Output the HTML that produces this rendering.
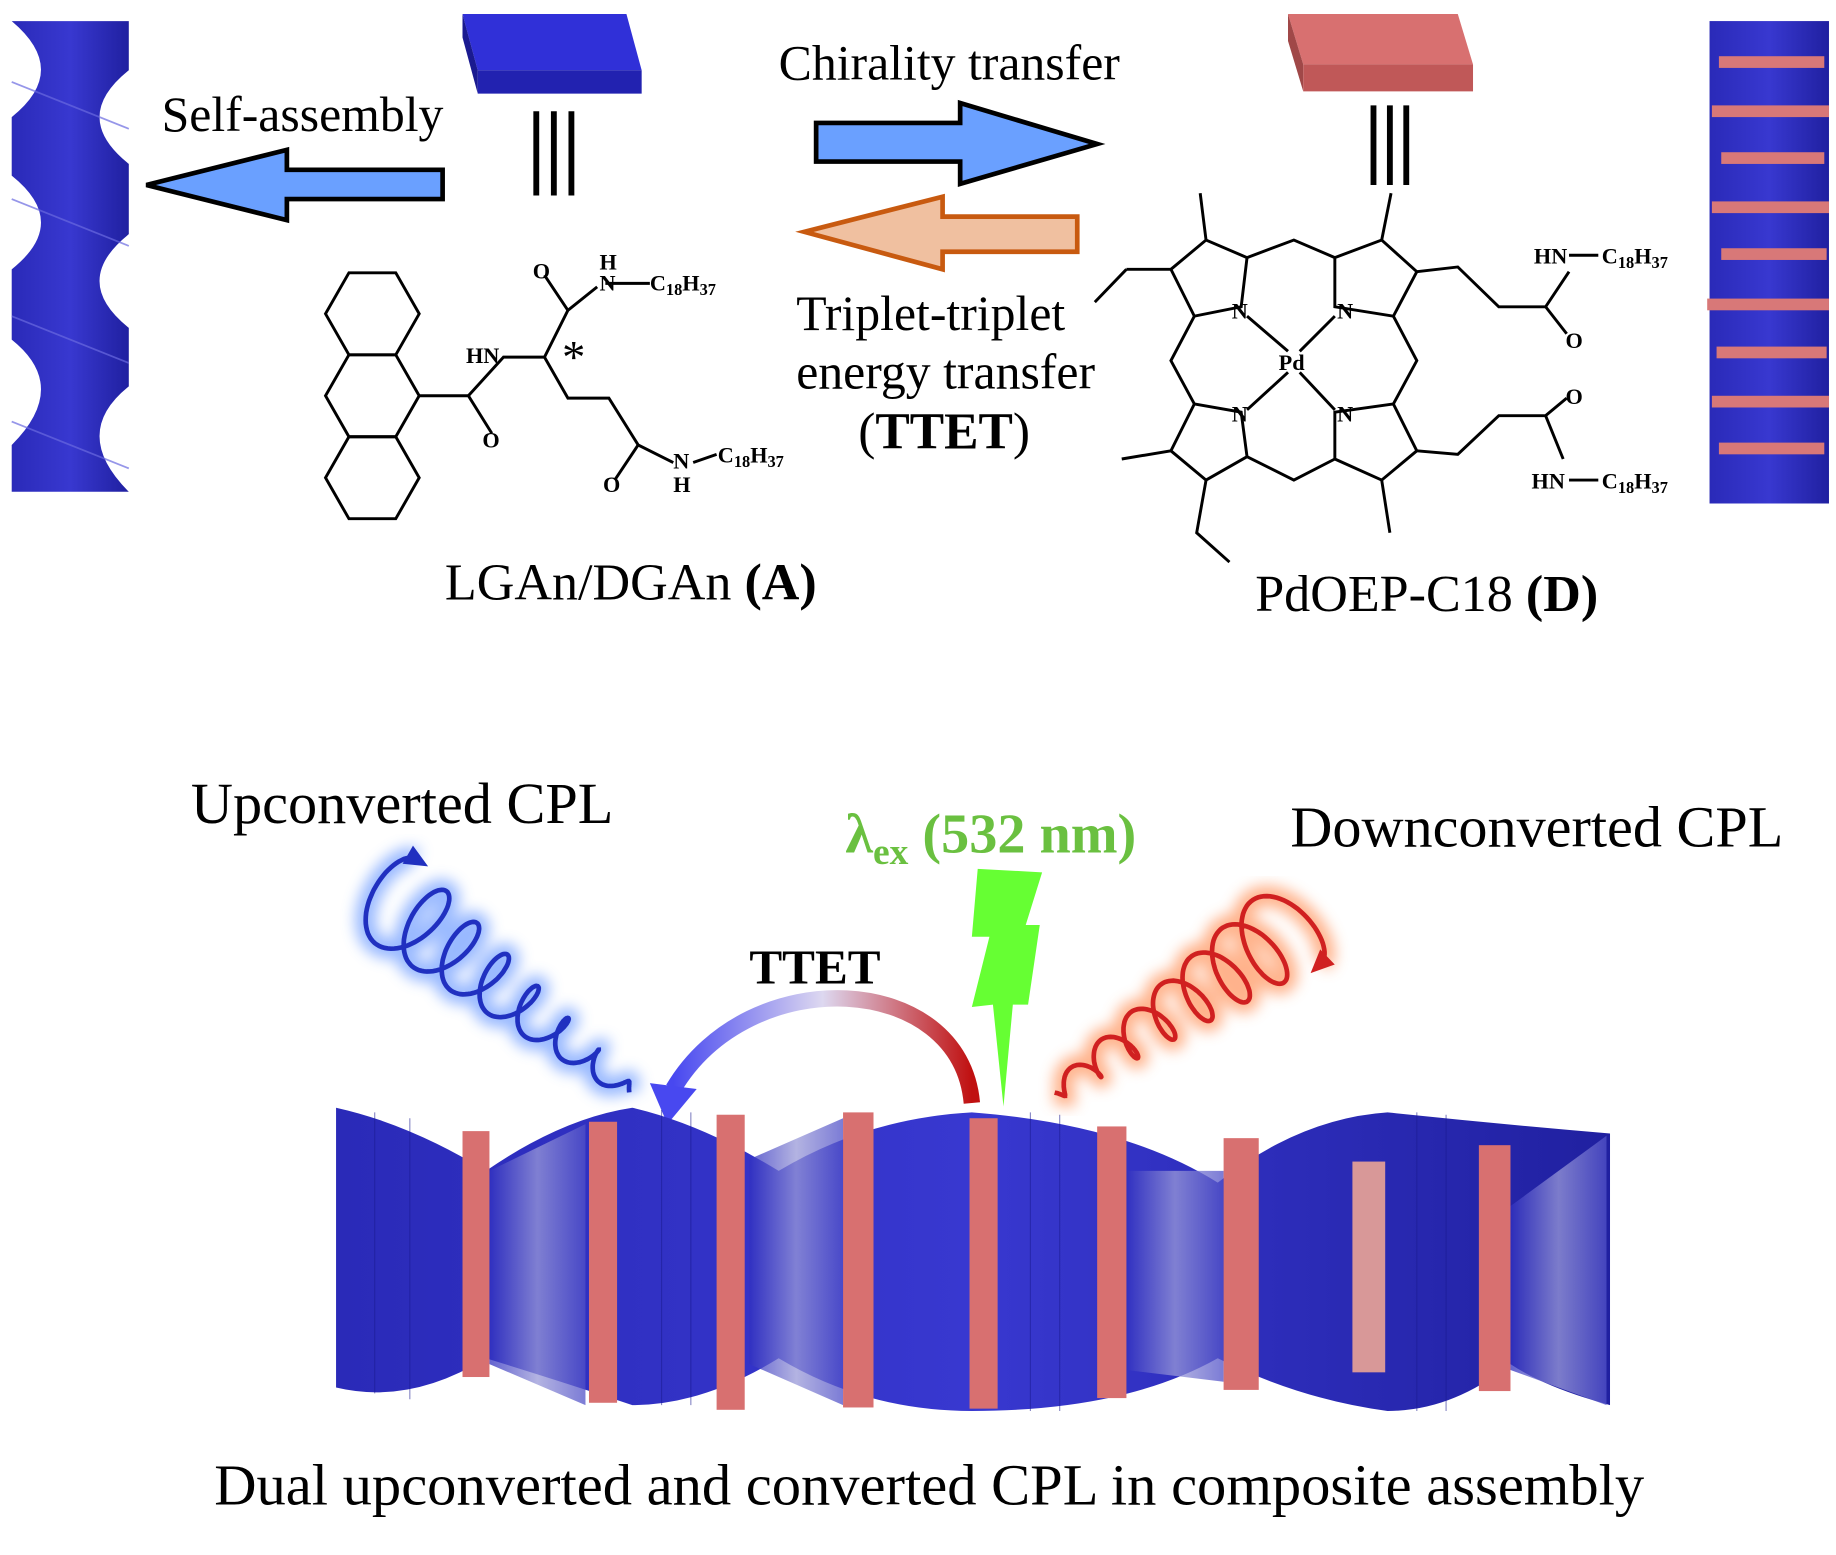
<!DOCTYPE html>
<html><head><meta charset="utf-8"><style>
html,body{margin:0;padding:0;background:#fff}
svg{display:block}
text{font-family:"Liberation Serif",serif}
</style></head><body>
<svg id="s" width="1836" height="1555" viewBox="0 0 1568 1328" preserveAspectRatio="none" xmlns="http://www.w3.org/2000/svg">
<defs>
<linearGradient id="hb" x1="0" x2="1"><stop offset="0" stop-color="#2a2ab8"/><stop offset="0.5" stop-color="#3838d0"/><stop offset="1" stop-color="#2020a0"/></linearGradient>
<linearGradient id="lt" x1="0" x2="1"><stop offset="0" stop-color="#3030c0"/><stop offset="0.5" stop-color="#9a9ad8"/><stop offset="1" stop-color="#5050c8"/></linearGradient>
<linearGradient id="arcg" x1="0" x2="1"><stop offset="0" stop-color="#4848f0"/><stop offset="0.5" stop-color="#ddd8f0"/><stop offset="1" stop-color="#c01010"/></linearGradient>
<filter id="gl"><feGaussianBlur stdDeviation="6"/></filter>
</defs>
<!-- left helix -->
<path d="M10 18 L110 18 L110 60 Q60 100 110 140 L110 200 Q60 240 110 280 L110 330 Q60 370 110 420 L10 420 L10 380 Q60 330 10 290 L10 230 Q60 190 10 150 L10 100 Q60 60 10 18Z" fill="url(#hb)"/>
<g stroke="#6a6ae0" stroke-width="1.5" opacity="0.7">
<line x1="10" y1="70" x2="110" y2="110"/><line x1="10" y1="170" x2="110" y2="210"/><line x1="10" y1="270" x2="110" y2="310"/><line x1="10" y1="360" x2="110" y2="400"/>
</g>
<!-- blue slab -->
<polygon points="395,12 535,12 548,60 408,60" fill="#3030d8"/>
<polygon points="395,12 408,60 408,80 395,32" fill="#1a1a90"/>
<polygon points="408,60 548,60 548,80 408,80" fill="#2222b0"/>
<g stroke="#000" stroke-width="5"><line x1="458" y1="95" x2="458" y2="167"/><line x1="473" y1="95" x2="473" y2="167"/><line x1="488" y1="95" x2="488" y2="167"/></g>
<!-- self-assembly arrow -->
<polygon points="378,145 245,145 245,128 125,158 245,188 245,170 378,170" fill="#6aa0ff" stroke="#000" stroke-width="4"/>
<text x="138" y="112" font-size="42.5">Self-assembly</text>
<!-- chirality arrow -->
<polygon points="697,105 820,105 820,88 937,123 820,157 820,138 697,138" fill="#6aa0ff" stroke="#000" stroke-width="4"/>
<text x="665" y="68" font-size="42.5">Chirality transfer</text>
<polygon points="920,185 805,185 805,168 687,198 805,230 805,215 920,215" fill="#f0c0a0" stroke="#c85a10" stroke-width="4"/>
<text x="680" y="282" font-size="42.5">Triplet-triplet</text>
<text x="680" y="332" font-size="42.5">energy transfer</text>
<text x="733" y="383" font-size="44">(<tspan font-weight="bold">TTET</tspan>)</text>
<!-- anthracene -->
<g stroke="#000" stroke-width="2.5" fill="none">
<polygon points="298,233 338,233 358,268 338,303 298,303 278,268"/>
<polygon points="298,303 338,303 358,338 338,373 298,373 278,338"/>
<polygon points="298,373 338,373 358,408 338,443 298,443 278,408"/>
<polyline points="358,338 400,338 420,370"/><polyline points="400,338 430,305 465,305 485,265 510,245"/>
<polyline points="465,305 485,340 520,340 545,380 575,395"/><polyline points="545,380 525,410"/>
<line x1="485" y1="265" x2="465" y2="235"/><line x1="517" y1="242" x2="555" y2="242"/><line x1="592" y1="395" x2="612" y2="388"/>
</g>
<g font-size="19" font-weight="bold">
<text x="455" y="238">O</text><text x="512" y="230">H</text><text x="512" y="248">N</text><text x="555" y="248">C<tspan font-size="14" dy="4">18</tspan><tspan dy="-4">H</tspan><tspan font-size="14" dy="4">37</tspan></text>
<text x="398" y="310">HN</text><text x="412" y="382">O</text><text x="515" y="420">O</text>
<text x="575" y="400">N</text><text x="575" y="420">H</text><text x="613" y="395">C<tspan font-size="14" dy="4">18</tspan><tspan dy="-4">H</tspan><tspan font-size="14" dy="4">37</tspan></text>
</g>
<text x="480" y="318" font-size="40">*</text>
<text x="380" y="512" font-size="44.5">LGAn/DGAn <tspan font-weight="bold">(A)</tspan></text>
<!-- red slab -->
<polygon points="1100,12 1245,12 1258,55 1113,55" fill="#d87070"/>
<polygon points="1100,12 1113,55 1113,78 1100,35" fill="#a04848"/>
<polygon points="1113,55 1258,55 1258,78 1113,78" fill="#c05858"/>
<g stroke="#000" stroke-width="5"><line x1="1173" y1="90" x2="1173" y2="158"/><line x1="1187" y1="90" x2="1187" y2="158"/><line x1="1201" y1="90" x2="1201" y2="158"/></g>
<!-- porphyrin -->
<g stroke="#000" stroke-width="2.5" fill="none">
<polygon points="1020,270 1000,230 1030,205 1065,220 1060,262"/>
<polygon points="1140,262 1140,220 1180,205 1210,232 1190,270"/>
<polygon points="1020,345 1060,352 1065,390 1030,410 1000,385"/>
<polygon points="1190,345 1210,385 1180,410 1140,392 1140,352"/>
<polyline points="1065,220 1105,205 1140,220"/><polyline points="1065,390 1105,410 1140,392"/>
<polyline points="1020,270 1000,308 1020,345"/><polyline points="1190,270 1210,308 1190,345"/>
<line x1="1065" y1="270" x2="1100" y2="300"/><line x1="1140" y1="270" x2="1110" y2="300"/><line x1="1065" y1="350" x2="1100" y2="318"/><line x1="1140" y1="350" x2="1110" y2="318"/>
<line x1="1030" y1="205" x2="1025" y2="165"/><line x1="1000" y1="230" x2="962" y2="230"/><line x1="962" y1="230" x2="935" y2="258"/>
<line x1="1180" y1="205" x2="1188" y2="165"/><polyline points="1210,232 1245,228 1280,262 1320,262 1340,232"/><line x1="1320" y1="262" x2="1338" y2="285"/>
<line x1="1000" y1="385" x2="958" y2="392"/><polyline points="1030,410 1022,455 1050,480"/>
<line x1="1180" y1="410" x2="1187" y2="455"/><polyline points="1210,385 1245,388 1280,355 1320,355 1338,340"/><line x1="1320" y1="355" x2="1335" y2="392"/>
<line x1="1340" y1="218" x2="1365" y2="218"/><line x1="1340" y1="410" x2="1365" y2="410"/>
</g>
<g font-size="19" font-weight="bold">
<text x="1052" y="272">N</text><text x="1142" y="272">N</text><text x="1052" y="360">N</text><text x="1142" y="360">N</text><text x="1092" y="316">Pd</text>
<text x="1310" y="225">HN</text><text x="1368" y="225">C<tspan font-size="14" dy="4">18</tspan><tspan dy="-4">H</tspan><tspan font-size="14" dy="4">37</tspan></text>
<text x="1337" y="297">O</text><text x="1337" y="345">O</text>
<text x="1308" y="417">HN</text><text x="1368" y="417">C<tspan font-size="14" dy="4">18</tspan><tspan dy="-4">H</tspan><tspan font-size="14" dy="4">37</tspan></text>
</g>
<text x="1072" y="522" font-size="44.5">PdOEP-C18 <tspan font-weight="bold">(D)</tspan></text>
<!-- right helix -->
<rect x="1460" y="18" width="102" height="412" fill="url(#hb)"/>
<g fill="#d87878">
<rect x="1468" y="48" width="90" height="10"/><rect x="1462" y="90" width="100" height="10"/><rect x="1470" y="130" width="88" height="10"/><rect x="1462" y="172" width="100" height="10"/><rect x="1470" y="212" width="90" height="10"/><rect x="1458" y="255" width="104" height="10"/><rect x="1466" y="296" width="94" height="10"/><rect x="1462" y="338" width="100" height="10"/><rect x="1468" y="378" width="90" height="10"/>
</g>
<!-- bottom texts -->
<text x="163" y="703" font-size="49.8">Upconverted CPL</text>
<text x="1102" y="723" font-size="49.7">Downconverted CPL</text>
<text x="722" y="728" font-size="48" font-weight="bold" fill="#6ac040">λ<tspan font-size="32" dy="10">ex</tspan><tspan dy="-10"> (532 nm)</tspan></text>
<text x="640" y="840" font-size="42" font-weight="bold">TTET</text>
<text x="183" y="1285" font-size="50">Dual upconverted and converted CPL in composite assembly</text>
<!-- lightning -->
<polygon points="835,742 890,745 876,790 888,790 878,858 865,858 857,945 848,858 830,860 845,800 830,800" fill="#66ff33"/>
<!-- TTET arc -->
<path d="M830 942 C 820 830, 640 820, 575 930" fill="none" stroke="url(#arcg)" stroke-width="14"/>
<polygon points="555,925 595,930 570,960" fill="#4848f0"/>
<!-- spirals -->
<g id="spb"></g><g id="spr"></g>
<!-- bottom helix -->
<path d="M287 946 Q350 960 415 1000 Q480 955 540 946 Q600 960 665 1000 Q740 955 830 950 Q960 960 1040 1010 Q1110 955 1185 950 Q1280 960 1375 968 L1375 1200 Q1320 1185 1290 1165 Q1240 1205 1185 1205 Q1110 1195 1040 1160 Q960 1205 830 1205 Q740 1205 665 1160 Q600 1200 540 1200 Q480 1180 415 1160 Q350 1200 287 1185Z" fill="url(#hb)"/>
<g fill="url(#lt)" opacity="0.75">
<path d="M418 1000 L500 960 L500 1200 L418 1165Z"/><path d="M640 990 L720 955 L720 1200 L640 1165Z"/><path d="M962 1000 L1045 1000 L1045 1180 L962 1170Z"/><path d="M1290 1030 L1372 970 L1372 1200 L1290 1170Z"/>
</g>
<g stroke="#1a1a90" stroke-width="1" opacity="0.5">
<line x1="320" y1="950" x2="320" y2="1190"/><line x1="350" y1="955" x2="350" y2="1195"/><line x1="565" y1="948" x2="565" y2="1200"/><line x1="590" y1="950" x2="590" y2="1200"/><line x1="880" y1="950" x2="880" y2="1205"/><line x1="905" y1="952" x2="905" y2="1205"/><line x1="1210" y1="950" x2="1210" y2="1205"/><line x1="1235" y1="952" x2="1235" y2="1205"/>
</g>
<g fill="#d87070">
<rect x="395" y="966" width="23" height="210"/><rect x="503" y="958" width="24" height="240"/><rect x="612" y="952" width="24" height="252"/><rect x="720" y="950" width="26" height="252"/><rect x="828" y="955" width="24" height="248"/><rect x="937" y="962" width="25" height="232"/><rect x="1045" y="972" width="30" height="215"/><rect x="1155" y="992" width="28" height="180" fill="#d89898"/><rect x="1263" y="978" width="27" height="210"/>
</g>
</svg>
<script>
function spiral(id,x0,y0,x1,y1,n,r0,r1,col,glow){
 var d="",N=500,px,py,qx,qy;
 for(var i=0;i<=N;i++){var t=i/N,a=t*n*2*Math.PI;
  var cx=x0+(x1-x0)*t,cy=y0+(y1-y0)*t,r=r0+(r1-r0)*t;
  var dx=x1-x0,dy=y1-y0,L=Math.hypot(dx,dy),ux=dx/L,uy=dy/L;
  qx=px;qy=py;
  px=cx+(-uy)*r*Math.sin(a)+ux*r*0.55*Math.cos(a);py=cy+ux*r*Math.sin(a)+uy*r*0.55*Math.cos(a);
  d+=(i?"L":"M")+px.toFixed(1)+" "+py.toFixed(1);}
 var ang=Math.atan2(py-qy,px-qx),s=12;
 var ah=[[px+Math.cos(ang)*s,py+Math.sin(ang)*s],[px+Math.cos(ang+2.3)*s,py+Math.sin(ang+2.3)*s],[px+Math.cos(ang-2.3)*s,py+Math.sin(ang-2.3)*s]].map(function(p){return p[0].toFixed(1)+","+p[1].toFixed(1)}).join(" ");
 var g=document.getElementById(id);
 g.innerHTML='<path d="'+d+'" fill="none" stroke="'+glow+'" stroke-width="18" filter="url(#gl)" opacity="0.8"/><path d="'+d+'" fill="none" stroke="'+col+'" stroke-width="4"/><polygon points="'+ah+'" fill="'+col+'"/>';
}
spiral("spb",540,935,330,765,7.25,6,40,"#2030c0","#80a8ff");
spiral("spr",898,935,1105,790,7.25,6,40,"#d02020","#ffa070");
</script>
</body></html>
